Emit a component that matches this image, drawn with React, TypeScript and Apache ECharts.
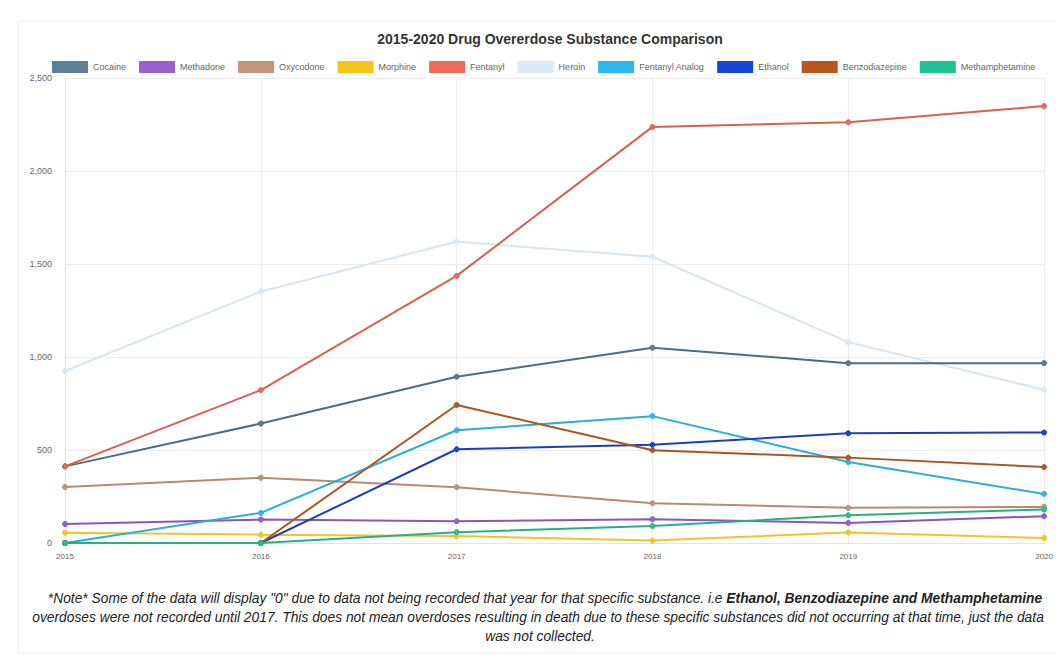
import React, { useEffect, useRef } from "react";
import * as echarts from "echarts";

const years = ["2015", "2016", "2017", "2018", "2019", "2020"];
const seriesNames = [
  "Cocaine",
  "Methadone",
  "Oxycodone",
  "Morphine",
  "Fentanyl",
  "Heroin",
  "Fentanyl Analog",
  "Ethanol",
  "Benzodiazepine",
  "Methamphetamine",
];
const cocaine = [412, 642, 894, 1050, 967, 967];
const methadone = [102, 126, 117, 128, 108, 144];
const oxycodone = [301, 351, 300, 214, 189, 194];
const morphine = [55, 45, 37, 13, 57, 27];
const fentanyl = [412, 822, 1436, 2237, 2262, 2349];
const heroin = [925, 1352, 1620, 1539, 1080, 824];
const fentanylAnalog = [0, 162, 606, 682, 435, 264];
const ethanol = [0, 0, 504, 528, 590, 594];
const benzodiazepine = [0, 0, 742, 499, 459, 408];
const methamphetamine = [0, 0, 58, 91, 149, 180];
const seriesValues = [
  cocaine,
  methadone,
  oxycodone,
  morphine,
  fentanyl,
  heroin,
  fentanylAnalog,
  ethanol,
  benzodiazepine,
  methamphetamine,
];
const fillColors = [
  "#5d8098",
  "#9a5fd0",
  "#c4947a",
  "#f5c518",
  "#ee6b5c",
  "#d9ebf8",
  "#2bb8ea",
  "#1446d8",
  "#b9561c",
  "#22c194",
];
const lineColors = [
  "#4f6c82",
  "#8a55bd",
  "#b88a70",
  "#f0c230",
  "#d95f52",
  "#d4e6f4",
  "#2aaed8",
  "#1c3fb8",
  "#a9561f",
  "#26b08a",
];
const yTicks = { min: 0, max: 2500, interval: 500 };

const noteLine1 =
  '*Note* Some of the data will display "0" due to data not being recorded that year for that specific substance. i.e ';
const noteBold = "Ethanol, Benzodiazepine and Methamphetamine";
const noteLine2 =
  "overdoses were not recorded until 2017. This does not mean overdoses resulting in death due to these specific substances did not occurring at that time, just the data";
const noteLine3 = "was not collected.";

export default function App() {
  const ref = useRef<HTMLDivElement>(null);
  useEffect(() => {
    document.body.style.margin = "0";
    const chart = echarts.init(ref.current!, undefined, { renderer: "svg" });
    const font = "'Liberation Sans', Arial, sans-serif";
    const noteSize = 13.8;
    chart.setOption({
      animation: false,
      backgroundColor: "#ffffff",
      title: {
        text: "2015-2020 Drug Overerdose Substance Comparison",
        left: 545,
        textAlign: "center",
        top: 27,
        textStyle: { fontSize: 14, fontWeight: "bold", color: "#333", fontFamily: font },
      },
      legend: {
        top: 61,
        left: 52,
        padding: 0,
        itemWidth: 36,
        itemHeight: 12,
        itemGap: 13,
        icon: "rect",
        textStyle: { fontSize: 9, color: "#666", fontFamily: font },
        data: seriesNames,
      },
      grid: { left: 65, right: 8, top: 78, bottom: 113, containLabel: false },
      xAxis: {
        type: "category",
        data: years,
        boundaryGap: false,
        axisLine: { show: true, lineStyle: { color: "#e3e3e3" } },
        axisTick: { show: false },
        splitLine: { show: true, lineStyle: { color: "#ececec" } },
        axisLabel: { fontSize: 8, color: "#666", margin: 9, fontFamily: font },
      },
      yAxis: {
        type: "value",
        min: yTicks.min,
        max: yTicks.max,
        interval: yTicks.interval,
        axisLine: { show: true, lineStyle: { color: "#e3e3e3" } },
        axisTick: { show: false },
        splitLine: { show: true, lineStyle: { color: "#ececec" } },
        axisLabel: {
          fontSize: 9,
          color: "#666",
          margin: 13,
          fontFamily: font,
          formatter: (v: number) => v.toLocaleString("en-US"),
        },
      },
      series: seriesNames.map((name, i) => ({
        name,
        type: "line",
        data: seriesValues[i],
        symbol: "circle",
        symbolSize: 5,
        itemStyle: { color: fillColors[i], borderColor: lineColors[i] },
        lineStyle: { color: lineColors[i], width: 2 },
        z: i === 5 ? 1 : 2,
      })),
      graphic: [
        {
          type: "rect",
          shape: { x: 18, y: 21, width: 1050, height: 632 },
          style: { fill: "none", stroke: "#efefef", lineWidth: 1 },
          silent: true,
          z: -1,
        },
        {
          type: "text",
          x: 545,
          y: 598,
          style: {
            text: "{n|" + noteLine1 + "}{b|" + noteBold + "}",
            align: "center",
            verticalAlign: "middle",
            rich: {
              n: { fontSize: noteSize, fontStyle: "italic", fill: "#222", fontFamily: font },
              b: { fontSize: noteSize, fontStyle: "italic", fontWeight: "bold", fill: "#222", fontFamily: font },
            },
          },
        },
        {
          type: "text",
          x: 538,
          y: 617,
          style: {
            text: noteLine2,
            align: "center",
            verticalAlign: "middle",
            fontSize: noteSize,
            fontStyle: "italic",
            fill: "#222",
            fontFamily: font,
          },
        },
        {
          type: "text",
          x: 540,
          y: 636,
          style: {
            text: noteLine3,
            align: "center",
            verticalAlign: "middle",
            fontSize: noteSize,
            fontStyle: "italic",
            fill: "#222",
            fontFamily: font,
          },
        },
      ],
    });
    return () => chart.dispose();
  }, []);
  return (
    <div
      ref={ref}
      style={{ position: "absolute", left: 0, top: 0, width: 1056, height: 656 }}
    />
  );
}
